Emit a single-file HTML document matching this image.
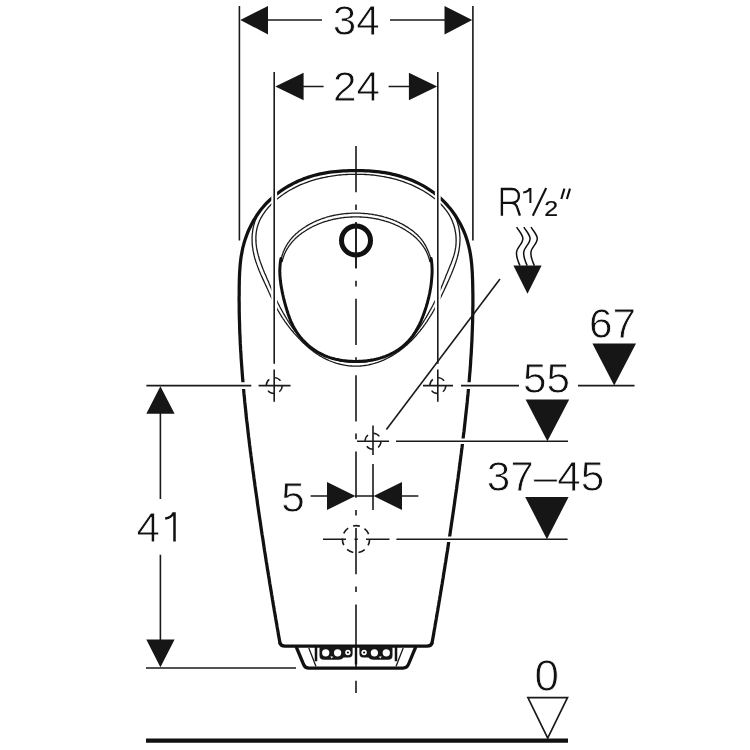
<!DOCTYPE html>
<html><head><meta charset="utf-8"><title>Urinal dimension drawing</title>
<style>html,body{margin:0;padding:0;background:#fff}body{width:750px;height:750px;overflow:hidden}svg{display:block;filter:grayscale(1)}</style>
</head><body>
<svg width="750" height="750" viewBox="0 0 750 750">
<style>
.o{fill:none;stroke:#111;stroke-width:3.25;stroke-linecap:round;stroke-linejoin:round}
.k{fill:none;stroke:#111;stroke-width:2.2;stroke-linecap:butt;stroke-linejoin:round}
.t{fill:none;stroke:#1a1a1a;stroke-width:1.3}
.d{fill:none;stroke:#1a1a1a;stroke-width:1.6}
.h{fill:none;stroke:#fff;stroke-width:5.8}
.f{fill:#161616;stroke:none}
text{font-family:"Liberation Sans",sans-serif;font-size:42.3px;fill:#111;stroke:#fff;stroke-width:.8px}
</style>
<rect width="750" height="750" fill="#fff"/>
<path class="d" d="M356 146V693" stroke-dasharray="46.2 12.2 5.6 12.4" />
<path class="t" d="M356.0 362.3L357.7 362.3L359.4 362.3L361.1 362.2L362.8 362.1L364.5 362.0L366.2 361.8L367.9 361.5L369.5 361.3L371.2 360.9L372.8 360.6L374.5 360.2L376.1 359.7L377.7 359.3L379.4 358.7L381.0 358.2L382.5 357.6L384.1 357.0L385.7 356.3L387.2 355.6L388.7 354.9L390.3 354.1L391.7 353.3L393.2 352.5L394.7 351.6L396.1 350.7L397.5 349.8L398.9 348.8L400.3 347.9L401.7 346.8L403.0 345.8L404.3 344.7L405.6 343.6L406.8 342.5L408.0 341.3L409.2 340.1L410.4 338.9L411.6 337.7L412.7 336.4L413.8 335.2L414.9 333.9L415.9 332.5L416.9 331.2L418.0 329.9L419.0 328.5L419.9 327.1L420.9 325.7L421.8 324.3L422.7 322.9L423.6 321.4L424.5 320.0L425.4 318.5L426.3 317.1L427.1 315.6L428.0 314.1L428.8 312.6L429.6 311.2L430.5 309.7L431.3 308.2L432.1 306.7L432.9 305.2L433.6 303.7L434.4 302.2L435.2 300.7L435.9 299.2L436.7 297.7L437.4 296.2L438.1 294.6L438.8 293.1L439.5 291.6L440.2 290.1L440.9 288.5L441.5 287.0L442.1 285.4L442.8 283.9L443.4 282.3L444.0 280.8L444.7 279.2L445.3 277.7L445.9 276.1L446.5 274.5L447.2 272.9L447.8 271.4L448.5 269.8L449.1 268.2L449.8 266.6L450.4 265.0L451.1 263.4L451.7 261.8L452.3 260.2L452.8 258.6L453.4 257.0L453.9 255.4L454.3 253.8L454.8 252.1L455.1 250.5L455.4 248.8L455.7 247.2L455.9 245.5L456.0 243.8L456.1 242.1L456.1 240.4L456.1 238.8L456.0 237.1L455.9 235.4L455.7 233.7L455.4 232.1L455.1 230.4L454.8 228.8L454.4 227.2L453.9 225.5L453.4 223.9L452.8 222.4L452.2 220.8L451.5 219.3L450.8 217.8L450.0 216.3L449.2 214.8L448.3 213.4L447.4 212.0L446.4 210.6L445.4 209.3L444.3 208.0L443.2 206.7L442.1 205.5L440.9 204.2L439.7 203.0L438.5 201.9L437.2 200.7L435.9 199.6L434.6 198.6L433.2 197.5L431.8 196.5L430.4 195.5L429.0 194.5L427.6 193.5L426.1 192.6L424.7 191.7L423.2 190.8L421.7 190.0L420.2 189.2L418.7 188.4L417.2 187.6L415.7 186.9L414.2 186.1L412.7 185.4L411.1 184.7L409.6 184.1L408.0 183.5L406.4 182.9L404.9 182.3L403.3 181.7L401.7 181.2L400.1 180.6L398.5 180.2L396.9 179.7L395.3 179.2L393.7 178.8L392.0 178.4L390.4 178.0L388.8 177.6L387.1 177.3L385.5 177.0L383.8 176.6L382.2 176.4L380.5 176.1L378.8 175.8L377.2 175.6L375.5 175.4L373.8 175.2L372.1 175.0L370.4 174.9L368.8 174.7L367.1 174.6L365.4 174.5L363.7 174.4L362.0 174.4L360.3 174.3L358.6 174.3L356.9 174.3L355.2 174.3L353.5 174.3L351.8 174.3L350.1 174.4L348.4 174.4L346.7 174.5L345.0 174.6L343.3 174.7L341.6 174.9L339.9 175.0L338.2 175.2L336.5 175.4L334.9 175.6L333.2 175.8L331.5 176.1L329.8 176.4L328.1 176.6L326.5 177.0L324.8 177.3L323.2 177.6L321.5 178.0L319.9 178.4L318.2 178.8L316.6 179.2L315.0 179.7L313.4 180.2L311.8 180.7L310.2 181.2L308.6 181.7L307.0 182.3L305.4 182.9L303.8 183.5L302.3 184.1L300.7 184.7L299.2 185.4L297.7 186.1L296.2 186.8L294.7 187.6L293.2 188.4L291.7 189.2L290.2 190.0L288.8 190.8L287.3 191.7L285.9 192.6L284.5 193.5L283.1 194.5L281.7 195.4L280.4 196.5L279.0 197.5L277.7 198.5L276.4 199.6L275.1 200.7L273.8 201.9L272.6 203.1L271.4 204.3L270.2 205.5L269.0 206.7L267.9 208.0L266.8 209.3L265.7 210.7L264.7 212.1L263.7 213.5L262.8 214.9L261.9 216.3L261.0 217.8L260.3 219.3L259.5 220.8L258.9 222.4L258.3 223.9L257.8 225.5L257.3 227.1L256.9 228.7L256.6 230.4L256.3 232.0L256.1 233.7L256.0 235.4L255.9 237.0L255.9 238.7L255.9 240.4L256.0 242.1L256.1 243.8L256.3 245.5L256.5 247.2L256.8 248.8L257.1 250.5L257.5 252.1L257.9 253.8L258.3 255.4L258.8 257.0L259.2 258.7L259.8 260.3L260.3 261.9L260.9 263.5L261.5 265.1L262.1 266.7L262.7 268.2L263.3 269.8L264.0 271.4L264.6 272.9L265.3 274.5L266.0 276.1L266.6 277.6L267.3 279.2L268.0 280.7L268.7 282.3L269.3 283.9L270.0 285.4L270.6 286.9L271.3 288.5L271.9 290.0L272.6 291.6L273.3 293.1L274.0 294.6L274.6 296.2L275.3 297.7L276.1 299.2L276.8 300.7L277.5 302.2L278.3 303.7L279.1 305.2L279.8 306.7L280.6 308.2L281.4 309.7L282.3 311.2L283.1 312.7L283.9 314.1L284.8 315.6L285.7 317.1L286.5 318.5L287.4 320.0L288.3 321.4L289.3 322.8L290.2 324.3L291.1 325.7L292.1 327.1L293.1 328.5L294.1 329.8L295.1 331.2L296.2 332.5L297.2 333.8L298.3 335.1L299.4 336.4L300.5 337.7L301.6 338.9L302.8 340.1L304.0 341.3L305.2 342.5L306.4 343.6L307.7 344.7L309.0 345.8L310.3 346.9L311.6 347.9L313.0 348.9L314.4 349.8L315.8 350.8L317.2 351.7L318.7 352.5L320.2 353.4L321.7 354.2L323.2 354.9L324.7 355.6L326.3 356.3L327.9 357.0L329.4 357.6L331.0 358.2L332.7 358.7L334.3 359.2L335.9 359.7L337.6 360.1L339.2 360.5L340.9 360.9L342.6 361.2L344.2 361.5L345.9 361.7L347.6 361.9L349.3 362.1L351.0 362.2L352.6 362.3L354.3 362.3L356.0 362.3"/>
<path class="t" d="M257.9 214.4L257.3 215.6L256.7 216.9L256.2 218.1L255.7 219.4L255.2 220.6L254.8 221.9L254.4 223.2L254.0 224.5L253.6 225.8L253.3 227.2L253.1 228.5L252.8 229.8L252.6 231.2L252.5 232.5L252.3 233.9L252.2 235.2L252.1 236.6L252.1 237.9L252.1 239.3L252.1 240.7L252.1 242.0L252.2 243.4L252.3 244.7L252.4 246.1L252.6 247.4L252.8 248.7L253.0 250.1L253.2 251.4L253.5 252.7L253.8 254.0L254.1 255.3L254.4 256.6L254.7 257.9L255.1 259.2L255.5 260.5L255.9 261.8L256.4 263.1L256.8 264.4L257.3 265.6L257.7 266.9L258.2 268.1L258.7 269.4L259.2 270.7L259.8 271.9L260.3 273.2L260.8 274.4L261.4 275.7L261.9 276.9L262.5 278.1L263.0 279.4L263.6 280.6L264.2 281.9L264.7 283.1L265.3 284.3L265.9 285.6L266.5 286.8L267.0 288.0L267.6 289.3L268.2 290.5L268.7 291.7L269.3 293.0L269.9 294.2L270.4 295.4L271.0 296.7L271.6 297.9L272.2 299.1L272.8 300.3L273.4 301.5L274.0 302.7L274.6 303.9L275.2 305.1L275.8 306.3L276.4 307.5L277.1 308.7L277.7 309.9L278.4 311.1L279.1 312.2L279.7 313.4L280.4 314.5L281.1 315.7L281.8 316.8L282.6 318.0L283.3 319.1L284.1 320.2L284.8 321.3L285.6 322.4L286.4 323.5L287.2 324.6L288.0 325.7L288.9 326.8L289.7 327.8L290.5 328.9L291.4 330.0L292.3 331.0L293.2 332.0L294.0 333.1L294.9 334.1L295.9 335.1L296.8 336.1L297.7 337.1L298.6 338.1L299.6 339.1L300.5 340.0L301.5 341.0L302.4 342.0L303.4 342.9L304.4 343.8L305.4 344.8L306.4 345.7L307.4 346.6L308.4 347.5L309.4 348.3L310.5 349.2L311.5 350.0L312.6 350.8L313.7 351.7L314.8 352.4L315.9 353.2L317.0 354.0L318.1 354.7L319.3 355.4L320.4 356.1L321.6 356.8L322.8 357.5L324.0 358.1L325.2 358.7L326.4 359.3L327.7 359.9L328.9 360.5L330.2 361.0L331.5 361.5L332.8 362.0L334.0 362.4L335.3 362.9L336.7 363.3L338.0 363.6L339.3 364.0L340.6 364.3L342.0 364.6L343.3 364.9L344.6 365.2L346.0 365.4L347.3 365.6L348.7 365.8L350.0 365.9L351.4 366.0L352.7 366.1L354.1 366.2L355.4 366.2L356.8 366.2L358.1 366.1L359.5 366.1L360.8 366.0L362.1 365.9L363.5 365.7L364.8 365.5L366.1 365.3L367.5 365.1L368.8 364.8L370.1 364.5L371.4 364.2L372.7 363.9L374.0 363.5L375.3 363.1L376.6 362.7L377.8 362.3L379.1 361.8L380.4 361.4L381.6 360.9L382.9 360.3L384.1 359.8L385.3 359.2L386.6 358.6L387.8 358.0L389.0 357.4L390.2 356.7L391.4 356.1L392.5 355.4L393.7 354.7L394.9 353.9L396.0 353.2L397.1 352.4L398.3 351.7L399.4 350.9L400.5 350.1L401.5 349.2L402.6 348.4L403.7 347.5L404.7 346.7L405.8 345.8L406.8 344.9L407.8 344.0L408.8 343.0L409.8 342.1L410.8 341.2L411.7 340.2L412.7 339.2L413.6 338.2L414.5 337.2L415.5 336.2L416.4 335.2L417.3 334.2L418.1 333.2L419.0 332.1L419.9 331.1L420.7 330.0L421.5 328.9L422.4 327.9L423.2 326.8L424.0 325.7L424.8 324.6L425.5 323.5L426.3 322.4L427.1 321.3L427.8 320.1L428.6 319.0L429.3 317.9L430.0 316.7L430.7 315.6L431.4 314.4L432.1 313.3L432.8 312.1L433.5 311.0L434.1 309.8L434.8 308.6L435.4 307.4L436.1 306.3L436.7 305.1L437.4 303.9L438.0 302.7L438.6 301.5L439.2 300.3L439.8 299.1L440.4 297.9L441.0 296.7L441.6 295.4L442.2 294.2L442.8 293.0L443.4 291.8L444.0 290.6L444.5 289.3L445.1 288.1L445.7 286.9L446.2 285.6L446.8 284.4L447.3 283.2L447.9 281.9L448.5 280.7L449.0 279.4L449.6 278.2L450.1 276.9L450.6 275.7L451.2 274.4L451.7 273.2L452.2 271.9L452.7 270.7L453.2 269.4L453.7 268.1L454.2 266.9L454.7 265.6L455.1 264.3L455.6 263.0L456.0 261.7L456.4 260.4L456.8 259.2L457.2 257.9L457.5 256.6L457.9 255.3L458.2 254.0L458.5 252.7L458.8 251.3L459.0 250.0L459.2 248.7L459.4 247.4L459.6 246.0L459.7 244.7L459.8 243.4L459.9 242.0L460.0 240.7L460.0 239.3L460.0 238.0L459.9 236.6L459.8 235.3L459.7 233.9L459.6 232.6L459.4 231.2L459.2 229.9L459.0 228.5L458.7 227.2L458.4 225.9L458.0 224.5L457.7 223.2L457.2 221.9L456.8 220.6L456.3 219.4L455.8 218.1L455.2 216.9L454.7 215.6L454.0 214.4"/>
<path class="t" d="M431.4 261.0L431.1 260.1L430.9 259.2L430.6 258.2L430.3 257.3L430.1 256.4L429.8 255.4L429.4 254.5L429.1 253.6L428.8 252.7L428.4 251.8L428.0 250.9L427.6 250.0L427.2 249.1L426.8 248.2L426.4 247.3L425.9 246.4L425.5 245.6L425.0 244.7L424.5 243.9L424.0 243.1L423.5 242.2L422.9 241.4L422.3 240.7L421.8 239.9L421.2 239.1L420.6 238.4L419.9 237.6L419.3 236.9L418.6 236.2L418.0 235.5L417.3 234.8L416.6 234.2L415.9 233.5L415.1 232.9L414.4 232.2L413.6 231.6L412.9 231.0L412.1 230.4L411.3 229.9L410.5 229.3L409.7 228.7L408.9 228.2L408.1 227.6L407.3 227.1L406.5 226.6L405.6 226.1L404.8 225.6L404.0 225.1L403.1 224.6L402.3 224.2L401.4 223.7L400.5 223.3L399.7 222.9L398.8 222.4L397.9 222.0L397.0 221.6L396.2 221.2L395.3 220.8L394.4 220.5L393.5 220.1L392.6 219.7L391.7 219.4L390.8 219.1L389.9 218.7L388.9 218.4L388.0 218.1L387.1 217.8L386.2 217.5L385.3 217.3L384.3 217.0L383.4 216.7L382.5 216.5L381.5 216.2L380.6 216.0L379.6 215.8L378.7 215.6L377.7 215.4L376.8 215.2L375.8 215.0L374.9 214.8L373.9 214.7L373.0 214.5L372.0 214.3L371.1 214.2L370.1 214.1L369.1 214.0L368.2 213.8L367.2 213.7L366.2 213.6L365.3 213.6L364.3 213.5L363.3 213.4L362.3 213.3L361.4 213.3L360.4 213.2L359.4 213.2L358.5 213.2L357.5 213.2L356.5 213.2L355.5 213.2L354.6 213.2L353.6 213.2L352.6 213.2L351.6 213.2L350.7 213.3L349.7 213.3L348.7 213.4L347.7 213.5L346.8 213.5L345.8 213.6L344.8 213.7L343.8 213.8L342.9 213.9L341.9 214.0L340.9 214.2L340.0 214.3L339.0 214.4L338.1 214.6L337.1 214.8L336.1 214.9L335.2 215.1L334.2 215.3L333.3 215.5L332.3 215.7L331.4 216.0L330.4 216.2L329.5 216.4L328.6 216.7L327.6 216.9L326.7 217.2L325.8 217.5L324.8 217.8L323.9 218.1L323.0 218.4L322.1 218.7L321.2 219.0L320.3 219.4L319.4 219.7L318.5 220.1L317.6 220.4L316.7 220.8L315.8 221.2L314.9 221.6L314.0 222.0L313.2 222.4L312.3 222.8L311.4 223.3L310.6 223.7L309.7 224.2L308.9 224.7L308.0 225.1L307.2 225.6L306.4 226.1L305.5 226.7L304.7 227.2L303.9 227.7L303.1 228.3L302.3 228.8L301.5 229.4L300.7 230.0L300.0 230.5L299.2 231.1L298.4 231.7L297.7 232.4L297.0 233.0L296.2 233.6L295.5 234.3L294.8 235.0L294.1 235.6L293.5 236.3L292.8 237.0L292.2 237.7L291.5 238.5L290.9 239.2L290.3 239.9L289.7 240.7L289.1 241.5L288.6 242.3L288.0 243.0L287.5 243.8L287.0 244.7L286.5 245.5L286.0 246.3L285.5 247.2L285.1 248.0L284.7 248.9L284.2 249.8L283.9 250.7L283.5 251.6L283.1 252.5L282.8 253.5L282.5 254.4L282.2 255.3L281.9 256.3L281.6 257.2L281.4 258.2L281.1 259.2L280.9 260.1L280.7 261.1"/>
<path class="t" d="M430.0 262.1L429.8 261.2L429.5 260.2L429.3 259.3L429.0 258.3L428.7 257.4L428.4 256.5L428.1 255.6L427.8 254.7L427.4 253.8L427.0 253.0L426.6 252.1L426.2 251.3L425.8 250.5L425.3 249.7L424.9 248.8L424.4 248.1L423.9 247.3L423.4 246.5L422.8 245.7L422.3 245.0L421.7 244.3L421.1 243.5L420.6 242.8L420.0 242.1L419.3 241.4L418.7 240.7L418.1 240.1L417.4 239.4L416.8 238.7L416.1 238.1L415.4 237.5L414.7 236.8L414.0 236.2L413.3 235.6L412.6 235.0L411.8 234.5L411.1 233.9L410.3 233.3L409.6 232.8L408.8 232.3L408.0 231.7L407.2 231.2L406.5 230.7L405.7 230.2L404.9 229.7L404.1 229.2L403.2 228.8L402.4 228.3L401.6 227.8L400.8 227.4L400.0 227.0L399.1 226.5L398.3 226.1L397.4 225.7L396.6 225.3L395.7 225.0L394.9 224.6L394.0 224.2L393.2 223.9L392.3 223.5L391.4 223.2L390.5 222.8L389.7 222.5L388.8 222.2L387.9 221.9L387.0 221.6L386.1 221.3L385.2 221.1L384.3 220.8L383.4 220.5L382.5 220.3L381.6 220.1L380.7 219.8L379.8 219.6L378.9 219.4L378.0 219.2L377.0 219.0L376.1 218.8L375.2 218.6L374.3 218.5L373.4 218.3L372.4 218.2L371.5 218.0L370.6 217.9L369.6 217.8L368.7 217.6L367.8 217.5L366.8 217.4L365.9 217.3L364.9 217.3L364.0 217.2L363.1 217.1L362.1 217.1L361.2 217.0L360.2 217.0L359.3 216.9L358.4 216.9L357.4 216.9L356.5 216.9L355.5 216.9L354.6 216.9L353.6 216.9L352.7 216.9L351.8 217.0L350.8 217.0L349.9 217.1L348.9 217.1L348.0 217.2L347.1 217.3L346.1 217.3L345.2 217.4L344.2 217.5L343.3 217.6L342.4 217.8L341.4 217.9L340.5 218.0L339.6 218.2L338.6 218.3L337.7 218.5L336.8 218.6L335.9 218.8L335.0 219.0L334.0 219.2L333.1 219.4L332.2 219.6L331.3 219.8L330.4 220.1L329.5 220.3L328.6 220.5L327.7 220.8L326.8 221.1L325.9 221.3L325.0 221.6L324.1 221.9L323.2 222.2L322.3 222.5L321.5 222.8L320.6 223.2L319.7 223.5L318.8 223.9L318.0 224.2L317.1 224.6L316.3 225.0L315.4 225.3L314.6 225.7L313.7 226.1L312.9 226.5L312.0 227.0L311.2 227.4L310.4 227.8L309.6 228.3L308.8 228.8L307.9 229.2L307.1 229.7L306.3 230.2L305.5 230.7L304.8 231.2L304.0 231.7L303.2 232.3L302.4 232.8L301.7 233.3L300.9 233.9L300.2 234.5L299.4 235.0L298.7 235.6L298.0 236.2L297.3 236.8L296.6 237.5L295.9 238.1L295.2 238.7L294.6 239.4L293.9 240.1L293.3 240.7L292.7 241.4L292.0 242.1L291.4 242.8L290.9 243.5L290.3 244.3L289.7 245.0L289.2 245.7L288.6 246.5L288.1 247.3L287.6 248.1L287.1 248.8L286.7 249.7L286.2 250.5L285.8 251.3L285.4 252.1L285.0 253.0L284.6 253.8L284.2 254.7L283.9 255.6L283.6 256.5L283.3 257.4L283.0 258.3L282.7 259.3L282.5 260.2L282.2 261.2L282.0 262.1"/>
<path class="o" style="stroke-width:3" d="M281.0 258.4L280.8 259.5L280.6 260.6L280.4 261.8L280.3 262.9L280.2 264.0L280.1 265.1L280.0 266.3L279.9 267.4L279.9 268.5L279.8 269.6L279.8 270.7L279.8 271.9L279.9 273.0L279.9 274.1L279.9 275.2L280.0 276.3L280.1 277.4L280.2 278.5L280.3 279.7L280.4 280.8L280.6 281.9L280.7 283.0L280.8 284.1L281.0 285.2L281.2 286.3L281.4 287.4L281.6 288.5L281.8 289.6L282.0 290.7L282.2 291.8L282.4 292.9L282.7 294.0L282.9 295.1L283.2 296.2L283.4 297.3L283.7 298.4L283.9 299.5L284.2 300.6L284.5 301.7L284.8 302.8L285.1 303.9L285.4 305.0L285.7 306.1L286.0 307.2L286.3 308.3L286.7 309.4L287.0 310.5L287.3 311.6L287.7 312.6L288.0 313.7L288.4 314.8L288.8 315.9L289.2 316.9L289.6 318.0L290.0 319.1L290.4 320.1L290.8 321.1L291.3 322.2L291.8 323.2L292.2 324.2L292.7 325.2L293.2 326.2L293.8 327.2L294.3 328.2L294.9 329.2L295.4 330.2L296.0 331.1L296.6 332.1L297.3 333.0L297.9 333.9L298.6 334.8L299.2 335.7L299.9 336.6L300.6 337.5L301.4 338.3L302.1 339.2L302.8 340.0L303.6 340.8L304.4 341.6L305.2 342.4L306.0 343.2L306.8 344.0L307.6 344.7L308.5 345.5L309.3 346.2L310.2 346.9L311.1 347.6L312.0 348.3L312.9 348.9L313.8 349.6L314.7 350.2L315.6 350.8L316.6 351.4L317.5 352.0L318.5 352.6L319.5 353.1L320.5 353.6L321.5 354.1L322.5 354.6L323.5 355.1L324.5 355.6L325.5 356.0L326.6 356.4L327.6 356.8L328.7 357.2L329.7 357.6L330.8 357.9L331.8 358.2L332.9 358.5L334.0 358.8L335.1 359.1L336.2 359.4L337.3 359.6L338.4 359.8L339.5 360.0L340.6 360.2L341.7 360.4L342.9 360.6L344.0 360.7L345.1 360.8L346.3 361.0L347.4 361.1L348.5 361.2L349.7 361.2L350.8 361.3L352.0 361.3L353.1 361.4L354.2 361.4L355.4 361.4L356.5 361.4L357.7 361.4L358.8 361.3L360.0 361.3L361.1 361.2L362.3 361.2L363.4 361.1L364.5 361.0L365.7 360.9L366.8 360.7L368.0 360.6L369.1 360.4L370.2 360.3L371.3 360.1L372.5 359.9L373.6 359.7L374.7 359.4L375.8 359.2L376.9 358.9L378.0 358.7L379.1 358.4L380.2 358.1L381.2 357.7L382.3 357.4L383.4 357.0L384.4 356.7L385.5 356.3L386.5 355.9L387.6 355.5L388.6 355.0L389.6 354.6L390.6 354.1L391.6 353.6L392.6 353.1L393.6 352.6L394.6 352.0L395.5 351.5L396.5 350.9L397.4 350.3L398.4 349.7L399.3 349.1L400.2 348.4L401.1 347.8L401.9 347.1L402.8 346.4L403.7 345.6L404.5 344.9L405.3 344.2L406.1 343.4L406.9 342.6L407.7 341.8L408.5 341.0L409.2 340.1L410.0 339.3L410.7 338.4L411.4 337.6L412.1 336.7L412.8 335.8L413.4 334.8L414.0 333.9L414.7 333.0L415.3 332.0L415.9 331.1L416.4 330.1L417.0 329.1L417.5 328.1L418.0 327.1L418.6 326.1L419.1 325.1L419.6 324.1L420.0 323.1L420.5 322.1L421.0 321.0L421.4 320.0L421.8 318.9L422.3 317.9L422.7 316.8L423.1 315.8L423.5 314.7L423.9 313.6L424.3 312.6L424.6 311.5L425.0 310.4L425.4 309.4L425.7 308.3L426.1 307.2L426.4 306.1L426.7 305.0L427.0 304.0L427.4 302.9L427.6 301.8L427.9 300.7L428.2 299.6L428.5 298.5L428.8 297.4L429.0 296.3L429.2 295.2L429.5 294.1L429.7 293.0L429.9 291.9L430.1 290.8L430.3 289.7L430.5 288.6L430.7 287.4L430.9 286.3L431.0 285.2L431.2 284.1L431.3 283.0L431.4 281.9L431.5 280.8L431.6 279.7L431.7 278.5L431.8 277.4L431.9 276.3L432.0 275.2L432.0 274.1L432.1 272.9L432.1 271.8L432.1 270.7L432.1 269.6L432.1 268.5L432.0 267.3L432.0 266.2L431.9 265.1L431.8 264.0L431.7 262.9L431.6 261.8L431.4 260.6L431.3 259.5L431.1 258.4"/>
<path class="o" d="M432.0 643.0L432.5 640.3L433.0 637.6L433.5 634.9L433.9 632.2L434.4 629.5L434.9 626.8L435.3 624.1L435.8 621.4L436.3 618.7L436.7 615.9L437.2 613.2L437.7 610.5L438.1 607.8L438.6 605.1L439.0 602.4L439.5 599.7L439.9 597.0L440.4 594.3L440.8 591.6L441.3 588.9L441.7 586.2L442.2 583.5L442.6 580.8L443.1 578.1L443.5 575.3L443.9 572.6L444.4 569.9L444.8 567.2L445.2 564.5L445.7 561.8L446.1 559.1L446.5 556.4L446.9 553.7L447.4 551.0L447.8 548.3L448.2 545.5L448.6 542.8L449.0 540.1L449.5 537.4L449.9 534.7L450.3 532.0L450.7 529.3L451.1 526.6L451.5 523.8L451.9 521.1L452.3 518.4L452.7 515.7L453.1 513.0L453.5 510.3L453.9 507.6L454.3 504.8L454.7 502.1L455.0 499.4L455.4 496.7L455.8 494.0L456.2 491.3L456.6 488.5L456.9 485.8L457.3 483.1L457.7 480.4L458.1 477.7L458.4 475.0L458.8 472.2L459.2 469.5L459.5 466.8L459.9 464.1L460.2 461.4L460.6 458.6L460.9 455.9L461.3 453.2L461.6 450.5L462.0 447.7L462.3 445.0L462.6 442.3L463.0 439.6L463.3 436.8L463.6 434.1L464.0 431.4L464.3 428.7L464.6 425.9L464.9 423.2L465.2 420.5L465.5 417.8L465.8 415.0L466.1 412.3L466.4 409.6L466.7 406.8L467.0 404.1L467.3 401.4L467.5 398.6L467.8 395.9L468.1 393.2L468.3 390.5L468.6 387.7L468.8 385.0L469.1 382.3L469.3 379.5L469.5 376.8L469.7 374.1L470.0 371.3L470.2 368.6L470.4 365.8L470.6 363.1L470.7 360.4L470.9 357.6L471.1 354.9L471.3 352.2L471.4 349.4L471.6 346.7L471.7 343.9L471.9 341.2L472.0 338.5L472.1 335.7L472.2 333.0L472.3 330.2L472.4 327.5L472.5 324.8L472.6 322.0L472.6 319.3L472.7 316.5L472.8 313.8L472.8 311.0L472.8 308.3L472.9 305.6L472.9 302.8L472.9 300.1L472.9 297.3L472.9 294.6L472.8 291.8L472.8 289.1L472.7 286.3L472.7 283.6L472.6 280.8L472.5 278.1L472.4 275.3L472.3 272.6L472.1 269.9L471.9 267.1L471.7 264.4L471.4 261.7L471.1 259.0L470.7 256.3L470.3 253.6L469.8 250.9L469.2 248.2L468.6 245.6L467.9 243.0L467.1 240.3L466.3 237.7L465.4 235.1L464.4 232.6L463.3 230.0L462.1 227.5L460.9 225.0L459.6 222.6L458.2 220.2L456.8 217.8L455.3 215.5L453.7 213.2L452.1 211.0L450.4 208.8L448.6 206.7L446.8 204.6L445.0 202.6L443.0 200.6L441.0 198.7L439.0 196.9L436.9 195.1L434.8 193.4L432.6 191.8L430.4 190.3L428.1 188.8L425.8 187.3L423.4 185.9L421.0 184.6L418.6 183.4L416.1 182.2L413.6 181.1L411.1 180.0L408.6 179.0L406.0 178.1L403.4 177.2L400.8 176.4L398.2 175.6L395.5 174.9L392.9 174.3L390.2 173.7L387.5 173.2L384.8 172.7L382.1 172.3L379.4 171.9L376.6 171.6L373.9 171.3L371.2 171.1L368.4 170.9L365.7 170.8L362.9 170.7L360.2 170.6L357.4 170.6L354.6 170.6L351.9 170.6L349.1 170.7L346.4 170.8L343.6 170.9L340.8 171.1L338.1 171.3L335.3 171.6L332.6 171.9L329.9 172.2L327.2 172.6L324.5 173.1L321.8 173.6L319.1 174.2L316.4 174.8L313.8 175.5L311.2 176.3L308.6 177.1L306.0 178.0L303.4 178.9L300.9 179.9L298.3 181.0L295.9 182.2L293.4 183.4L291.0 184.7L288.6 186.0L286.2 187.4L283.9 188.8L281.6 190.4L279.4 192.0L277.2 193.6L275.1 195.3L273.0 197.1L271.0 198.9L269.0 200.8L267.0 202.7L265.2 204.7L263.4 206.7L261.6 208.8L259.9 211.0L258.3 213.2L256.7 215.5L255.3 217.8L253.8 220.1L252.5 222.5L251.2 225.0L250.0 227.4L248.8 230.0L247.7 232.5L246.7 235.1L245.8 237.7L244.9 240.3L244.1 242.9L243.4 245.6L242.7 248.2L242.2 250.9L241.7 253.6L241.2 256.3L240.8 259.0L240.5 261.7L240.2 264.4L240.0 267.2L239.8 269.9L239.6 272.6L239.5 275.4L239.4 278.1L239.3 280.9L239.3 283.6L239.2 286.4L239.2 289.1L239.2 291.8L239.2 294.6L239.1 297.3L239.1 300.1L239.2 302.8L239.2 305.6L239.2 308.3L239.2 311.1L239.3 313.8L239.3 316.5L239.4 319.3L239.5 322.0L239.6 324.8L239.6 327.5L239.7 330.2L239.8 333.0L240.0 335.7L240.1 338.5L240.2 341.2L240.3 343.9L240.5 346.7L240.6 349.4L240.8 352.2L241.0 354.9L241.1 357.6L241.3 360.4L241.5 363.1L241.7 365.8L241.9 368.6L242.1 371.3L242.3 374.0L242.5 376.8L242.7 379.5L243.0 382.2L243.2 385.0L243.4 387.7L243.7 390.4L243.9 393.2L244.2 395.9L244.5 398.6L244.7 401.4L245.0 404.1L245.3 406.8L245.6 409.6L245.9 412.3L246.1 415.0L246.4 417.8L246.7 420.5L247.1 423.2L247.4 425.9L247.7 428.7L248.0 431.4L248.3 434.1L248.6 436.8L249.0 439.6L249.3 442.3L249.6 445.0L250.0 447.7L250.3 450.5L250.7 453.2L251.0 455.9L251.4 458.6L251.7 461.4L252.1 464.1L252.5 466.8L252.8 469.5L253.2 472.2L253.6 475.0L253.9 477.7L254.3 480.4L254.7 483.1L255.0 485.8L255.4 488.6L255.8 491.3L256.2 494.0L256.6 496.7L257.0 499.4L257.3 502.1L257.7 504.9L258.1 507.6L258.5 510.3L258.9 513.0L259.3 515.7L259.7 518.4L260.1 521.1L260.5 523.8L260.9 526.6L261.3 529.3L261.7 532.0L262.1 534.7L262.6 537.4L263.0 540.1L263.4 542.8L263.8 545.5L264.2 548.3L264.6 551.0L265.1 553.7L265.5 556.4L265.9 559.1L266.3 561.8L266.8 564.5L267.2 567.2L267.6 569.9L268.1 572.6L268.5 575.3L269.0 578.1L269.4 580.8L269.8 583.5L270.3 586.2L270.7 588.9L271.2 591.6L271.6 594.3L272.1 597.0L272.5 599.7L273.0 602.4L273.4 605.1L273.9 607.8L274.3 610.5L274.8 613.2L275.3 615.9L275.7 618.6L276.2 621.4L276.7 624.1L277.1 626.8L277.6 629.5L278.1 632.2L278.5 634.9L279.0 637.6L279.5 640.3L280.0 643.0"/>
<path class="o" d="M279.90 643.00 Q280.70 646.00 284.90 646.00 L427.10 646.00 Q431.30 646.00 432.10 643.00"/>
<circle cx="356" cy="240.4" r="14.5" fill="none" stroke="#111" stroke-width="5"/>
<path class="d" d="M356 222V268"/>
<path class="o" d="M296.5 647.5L303.6 664.5Q305 668 309 668H403Q407 668 408.4 664.5L415.5 647.5"/>
<path class="t" d="M308.8 648L316 666.5M403.2 648L396 666.5"/>
<path class="k" style="stroke-width:2.5" d="M316 647V661.3M396 647V661.3"/>
<path class="f" d="M319.5 646.5V655.4Q319.5 659.8 324.0 659.8H338.5Q342.0 659.8 343.6 657.6H348.6Q352.6 657.4 352.6 653.4V646.5Z"/>
<circle fill="#fff" cx="325.7" cy="652.8" r="3.65"/>
<circle fill="#fff" cx="337.6" cy="652.8" r="3.65"/>
<path fill="#fff" d="M330.2 656.4H333.2L331.7 658.4Z"/>
<circle fill="#fff" cx="347.9" cy="652.5" r="2.7"/>
<circle fill="#111" cx="347.9" cy="652.5" r="1.1"/>
<path class="f" d="M392.5 646.5V655.4Q392.5 659.8 388.0 659.8H373.5Q370.0 659.8 368.4 657.6H363.4Q359.4 657.4 359.4 653.4V646.5Z"/>
<circle fill="#fff" cx="386.3" cy="652.8" r="3.65"/>
<circle fill="#fff" cx="374.4" cy="652.8" r="3.65"/>
<path fill="#fff" d="M381.8 656.4H378.8L380.3 658.4Z"/>
<circle fill="#fff" cx="364.1" cy="652.5" r="2.7"/>
<circle fill="#111" cx="364.1" cy="652.5" r="1.1"/>
<path class="k" style="stroke-width:2.4" d="M356 647V664.5"/>
<path class="d" d="M239.4 6V240.5M472.9 6V240.5"/>
<path class="d" d="M267 20H322M390 20H445"/>
<path class="f" d="M240.3 20L268 6V34.4ZM472.2 20L444.5 6V34.4Z"/>
<text x="356.3" y="35.2" text-anchor="middle">34</text>
<path class="h" d="M274.2 150V364M437.8 150V364"/>
<path class="d" d="M274.2 72V363.8M437.8 72V363.8"/>
<path class="d" d="M303 86.5H323.6M388.6 86.5H409.5"/>
<path class="f" d="M275.3 86.5L303.6 72.8V100.2ZM437.2 86.5L408.9 72.8V100.2Z"/>
<text x="356.5" y="101" text-anchor="middle">24</text>
<path class="h" style="stroke-width:6.6" d="M236 385.6H251M461 385.6H476"/>
<path class="d" d="M146.4 385.6H251.3M258.6 385.6H290.5M423 385.6H453M461 385.6H519M578 385.6H634.5"/>
<path class="d" d="M274.2 369.6V401.8M437.8 369.6V401.8"/>
<circle cx="274.2" cy="385.6" r="8.0" class="t" style="stroke-width:1.45" stroke-dasharray="7.00 5.57" stroke-dashoffset="0.00"/>
<circle cx="437.8" cy="385.6" r="8.0" class="t" style="stroke-width:1.45" stroke-dasharray="7.00 5.57" stroke-dashoffset="0.00"/>
<path class="h" style="stroke-width:5.6" d="M458 441.3H470M444 539.2H456"/>
<path class="d" d="M357 441.3H389M396 441.3H568"/>
<path class="d" d="M373 425.6V455M373 464V510"/>
<circle cx="373.0" cy="441.3" r="8.0" class="t" style="stroke-width:1.45" stroke-dasharray="7.00 5.57" stroke-dashoffset="0.00"/>
<path class="d" d="M386.4 429.6L500 279"/>
<path class="d" d="M310.6 496H328M355 496H374M401.5 496H418.4"/>
<path class="f" d="M355.4 496L327 482V510ZM373.6 496L402 482V510Z"/>
<text x="293" y="511.6" text-anchor="middle">5</text>
<circle class="d" cx="356" cy="539.2" r="13.6" stroke-dasharray="6.9 5.307" stroke-dashoffset="0.4"/>
<path class="d" d="M323 539.2H346M366 539.2H389.5M396.4 539.2H567.6M354.5 539.2H357.8"/>
<path class="d" d="M160.4 413V499M160.4 554.7V640M146 668H296"/>
<path class="f" d="M160.4 386.2L146.3 413.8H174.6ZM160.4 667.3L146.3 639.4H174.6Z"/>
<text x="136.6" y="541.7">4</text>
<path fill="none" stroke="#111" stroke-width="2.5" d="M165.2 518.6Q171.6 517.6 173.6 512.6M174.5 512.3V541.4"/>
<path class="f" d="M592.4 343.6 L636.0 343.6 L614.2 385.4Z"/>
<text x="612.5" y="338" text-anchor="middle">67</text>
<path class="f" d="M525.6 399.6 L569.2 399.6 L547.4 441.2Z"/>
<text x="546.5" y="393.3" text-anchor="middle">55</text>
<path class="f" d="M525.2 497.0 L568.6 497.0 L546.9 539.2Z"/>
<text x="545.5" y="491.3" text-anchor="middle">37–45</text>
<path fill="none" stroke="#111" stroke-width="2.35" stroke-linejoin="miter" d="M501.9 215.7V189H511.6C516.6 189 518.9 192.2 518.9 195.9C518.9 199.8 516.4 202.8 511.6 202.8H501.9M511 202.8Q516 203 517.2 207.5L519.9 215.7"/>
<path fill="none" stroke="#111" stroke-width="2" d="M523.2 192.5Q528.4 192.2 529.8 188.2M530.4 187.9V202.9"/>
<text transform="translate(544.3 215.8) scale(1.12 1)" style="font-size:22.3px;stroke:#111;stroke-width:.25px">2</text>
<path fill="none" stroke="#111" stroke-width="2.1" d="M532.8 215.7L546.2 188"/>
<path fill="none" stroke="#111" stroke-width="2.1" d="M561.3 199L564.4 188.6M566.9 199L570 188.6"/>
<path fill="none" stroke="#111" stroke-width="1.5" d="M516.6 227.2C519.8 232 522.8 235 522.9 238.5C523.0 244 516.8 247 516.5 252.5C516.3 257 517.8 261 520.0 265.6"/>
<path fill="none" stroke="#111" stroke-width="1.5" d="M523.8 227.2C527.0 232 530.0 235 530.1 238.5C530.2 244 524.0 247 523.7 252.5C523.5 257 525.0 261 527.2 265.6"/>
<path fill="none" stroke="#111" stroke-width="1.5" d="M531.0 227.2C534.2 232 537.2 235 537.3 238.5C537.4 244 531.2 247 530.9 252.5C530.7 257 532.2 261 534.4 265.6"/>
<path class="f" d="M513.4 265.6 L541.6 265.6 L527.5 293.8Z"/>
<path d="M146 740.6H568" stroke="#111" stroke-width="4.1" fill="none"/>
<path class="d" style="fill:#fff;stroke-width:1.7" d="M527.9 697.6H567.5L547.7 738Z"/>
<text x="546.7" y="691.4" text-anchor="middle" style="font-size:44px">0</text>
</svg>
</body></html>
